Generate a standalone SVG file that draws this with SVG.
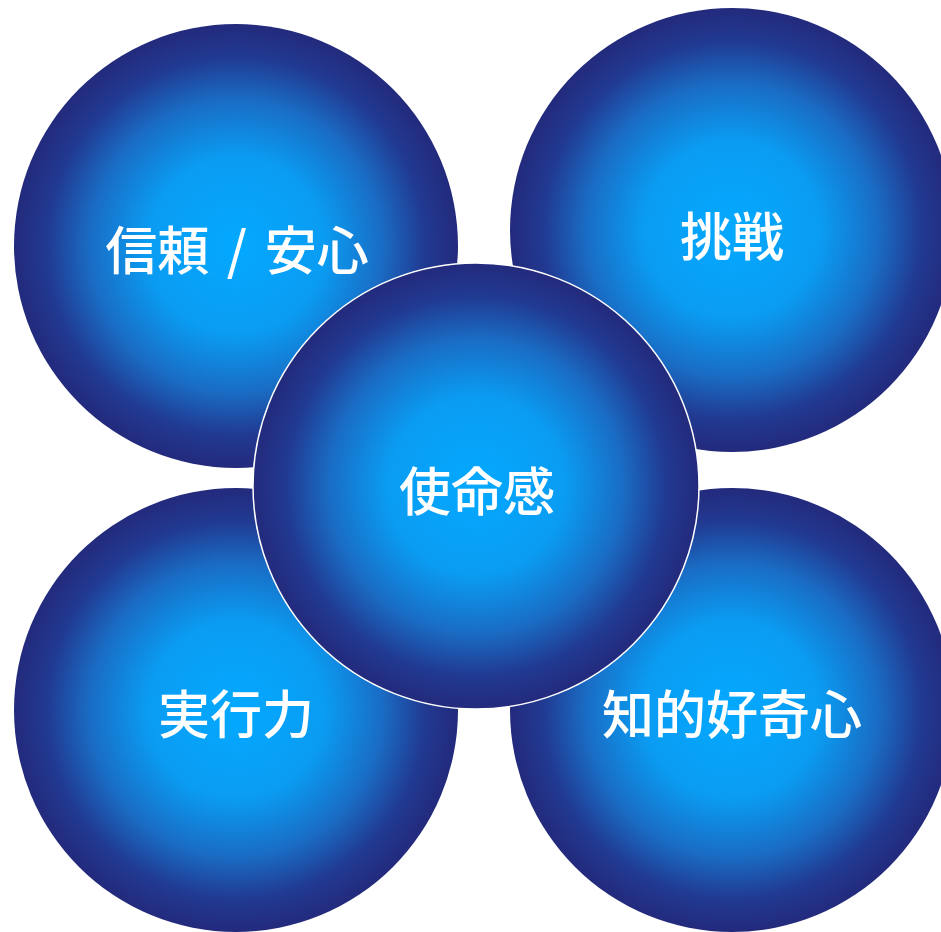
<svg xmlns="http://www.w3.org/2000/svg" width="941" height="932" viewBox="0 0 941 932">
<defs>
<radialGradient id="g" cx="0.5" cy="0.5" r="0.5">
<stop offset="0" stop-color="#03a9ff"/>
<stop offset="0.4" stop-color="#0a9cf2"/>
<stop offset="0.66" stop-color="#1a6cc4"/>
<stop offset="0.85" stop-color="#213a92"/>
<stop offset="1" stop-color="#232a7c"/>
</radialGradient>
</defs>
<style>
.c{fill:url(#g)}
.m{fill:url(#g);stroke:#ffffff;stroke-width:1.5}
.t{fill:#ffffff;font-family:"Noto Sans CJK JP","Noto Sans CJK SC",sans-serif;font-size:52px;font-weight:500;text-anchor:middle}
</style>
<g id="connectors"/>
<g id="trust">
<circle class="c" cx="236" cy="246" r="222"/>
<text class="t" x="237" y="270" word-spacing="6">信頼 / 安心</text>
</g>
<g id="challenge">
<circle class="c" cx="732" cy="230" r="222"/>
<text class="t" x="732" y="256">挑戦</text>
</g>
<g id="action">
<circle class="c" cx="236" cy="710" r="222"/>
<text class="t" x="236" y="734">実行力</text>
</g>
<g id="curiosity">
<circle class="c" cx="732" cy="710" r="222"/>
<text class="t" x="732" y="734">知的好奇心</text>
</g>
<g id="mission">
<circle class="m" cx="476" cy="486" r="223"/>
<text class="t" x="477" y="511">使命感</text>
</g>
</svg>
